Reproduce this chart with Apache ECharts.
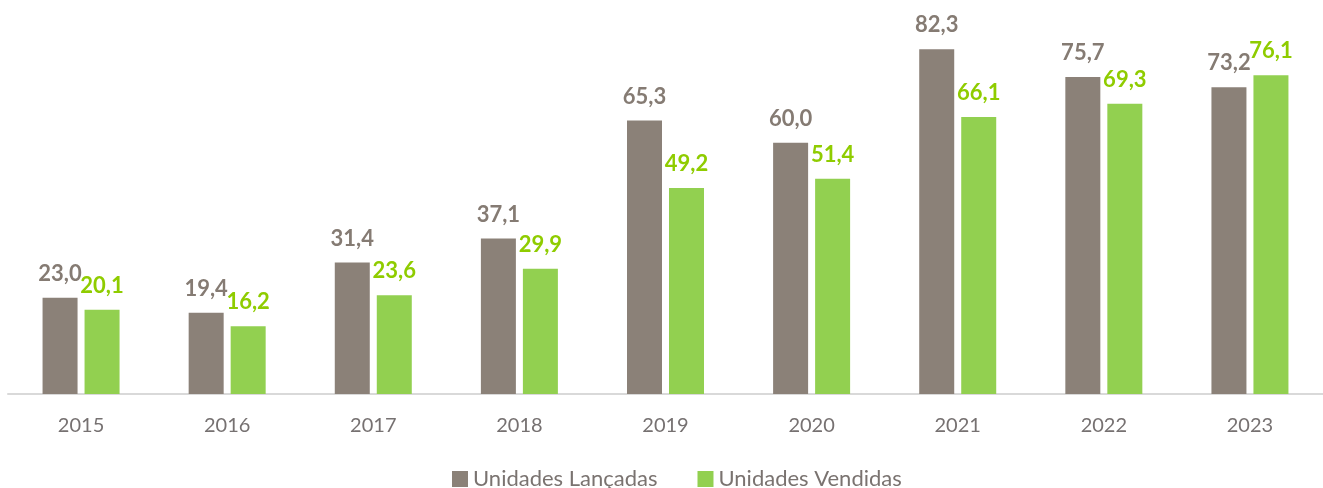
<!DOCTYPE html>
<html>
<head>
<meta charset="utf-8">
<script src="https://cdn.jsdelivr.net/npm/echarts@6/dist/echarts.min.js"></script>
<style>html,body{margin:0;padding:0;background:#fff}#c{width:1323px;height:488px}</style>
</head>
<body>
<div id="c"></div>
<script>
const categories = ['2015','2016','2017','2018','2019','2020','2021','2022','2023'];
const lancadas = [23.0, 19.4, 31.4, 37.1, 65.3, 60.0, 82.3, 75.7, 73.2];
const vendidas = [20.1, 16.2, 23.6, 29.9, 49.2, 51.4, 66.1, 69.3, 76.1];
const seriesNames = ['Unidades Lançadas', 'Unidades Vendidas'];

const fmt = p => p.value.toFixed(1).replace('.', ',');
const chart = echarts.init(document.getElementById('c'), null, {renderer: 'canvas'});
chart.setOption({
  animation: false,
  backgroundColor: '#fff',
  textStyle: {fontFamily: 'Lato, "Open Sans", sans-serif'},
  grid: {left: 8, width: 1327, top: 17, bottom: 94, containLabel: false},
  legend: {
    top: 463, left: 447, padding: 5, itemWidth: 16, itemHeight: 16, itemGap: 40,
    icon: 'rect',
    textStyle: {fontSize: 22, color: '#7a7370', fontFamily: 'Lato, sans-serif'},
    data: seriesNames
  },
  xAxis: {
    type: 'category', data: categories,
    axisLine: {lineStyle: {color: '#d9d9d9', width: 2}},
    axisTick: {show: false},
    axisLabel: {fontSize: 20, color: '#767171', margin: 22, fontFamily: 'Lato, sans-serif'}
  },
  yAxis: {type: 'value', min: 0, max: 90, show: false, splitLine: {show: false}},
  series: [
    {
      name: seriesNames[0], type: 'bar', data: lancadas, barWidth: 35, barGap: '20%',
      itemStyle: {color: '#8B8178'},
      label: {show: true, position: 'top', distance: 13, formatter: fmt,
        fontSize: 22, fontWeight: 'bold', color: '#857B73', fontFamily: 'Lato, sans-serif'}
    },
    {
      name: seriesNames[1], type: 'bar', data: vendidas, barWidth: 35, barGap: '20%',
      itemStyle: {color: '#92D050'},
      label: {show: true, position: 'top', distance: 13, formatter: fmt,
        fontSize: 22, fontWeight: 'bold', color: '#8FCC00', fontFamily: 'Lato, sans-serif'}
    }
  ]
});
</script>
</body>
</html>
